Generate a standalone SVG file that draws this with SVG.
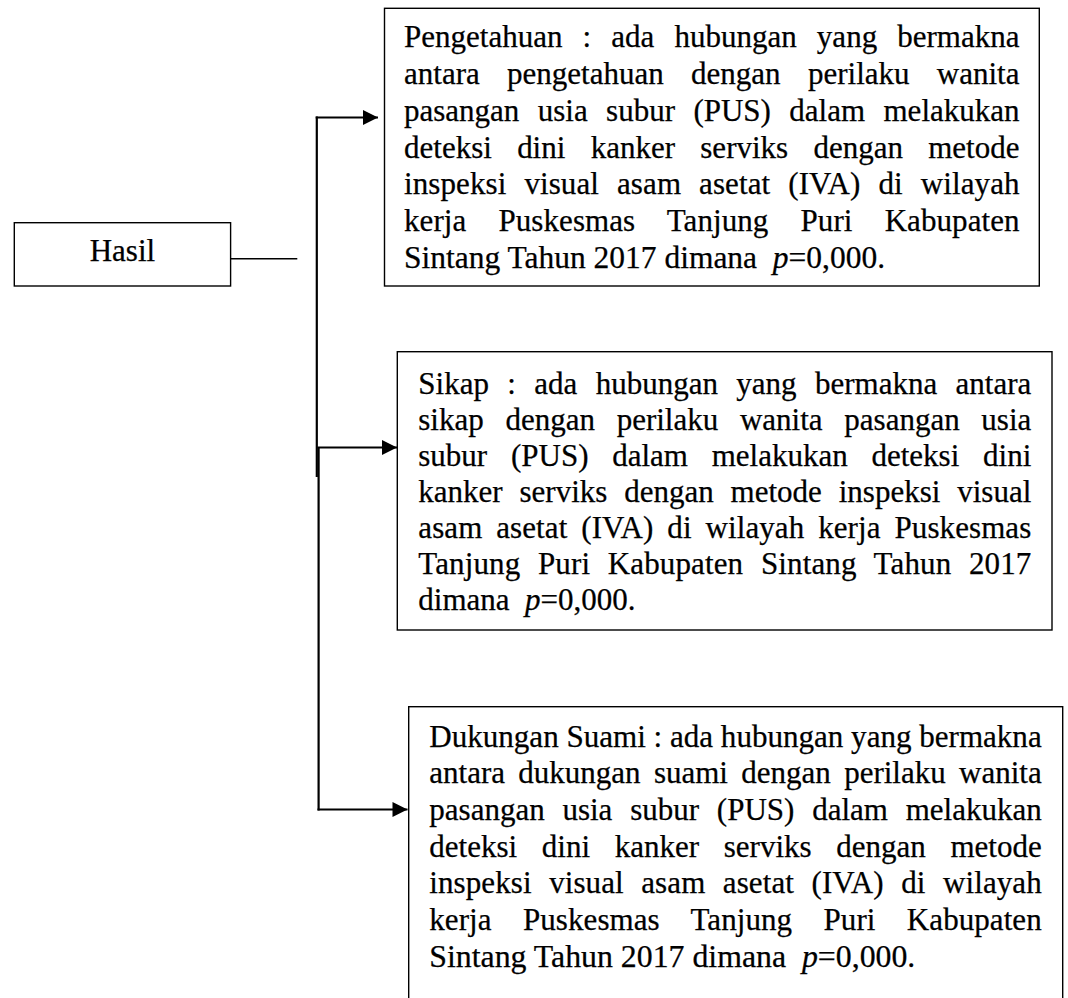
<svg xmlns="http://www.w3.org/2000/svg" width="1068" height="998" viewBox="0 0 1068 998">
<style>
.box{fill:#fff;stroke:#000;stroke-width:1.4}
.t{font-family:"Liberation Serif","Times New Roman",serif;font-size:31px;fill:#000;stroke:#000;stroke-width:0.25}
.c{fill:none;stroke:#000;stroke-width:2.2}
</style>
<defs>
<marker id="ah" viewBox="0 0 10 10" refX="10" refY="5" markerWidth="16" markerHeight="15" markerUnits="userSpaceOnUse" orient="auto">
<path d="M0,0 L10,5 L0,10 Z" fill="#000"/>
</marker>
</defs>
<rect width="1068" height="998" fill="#fff"/>
<g id="connectors">
<line class="c" x1="230.6" y1="258.7" x2="297.3" y2="258.7" style="stroke-width:1.6"/>
<line class="c" x1="316.8" y1="116.4" x2="316.8" y2="477"/>
<line class="c" x1="318.6" y1="447" x2="318.6" y2="810.6"/>
<line class="c" x1="315.7" y1="117.5" x2="378" y2="117.5" marker-end="url(#ah)"/>
<line class="c" x1="317.5" y1="447.5" x2="397" y2="447.5" marker-end="url(#ah)"/>
<line class="c" x1="317.5" y1="809.5" x2="407.5" y2="809.5" marker-end="url(#ah)"/>
</g>
<g id="hasil">
<rect class="box" x="14.3" y="222.7" width="216.3" height="63.3"/>
<text class="t" x="122.4" y="261" text-anchor="middle">Hasil</text>
</g>
<g id="pengetahuan">
<rect class="box" x="384.5" y="8.3" width="654.8" height="277.7"/>
<text class="t" x="404" y="46.8" word-spacing="12.39" textLength="615.5" lengthAdjust="spacing">Pengetahuan : ada hubungan yang bermakna</text>
<text class="t" x="404" y="83.7" word-spacing="19.58" textLength="615.5" lengthAdjust="spacing">antara pengetahuan dengan perilaku wanita</text>
<text class="t" x="404" y="120.6" word-spacing="10.66" textLength="615.5" lengthAdjust="spacing">pasangan usia subur (PUS) dalam melakukan</text>
<text class="t" x="404" y="157.5" word-spacing="17.54" textLength="615.5" lengthAdjust="spacing">deteksi dini kanker serviks dengan metode</text>
<text class="t" x="404" y="194.4" word-spacing="10.17" textLength="615.5" lengthAdjust="spacing">inspeksi visual asam asetat (IVA) di wilayah</text>
<text class="t" x="404" y="231.3" word-spacing="24.3" textLength="615.5" lengthAdjust="spacing">kerja Puskesmas Tanjung Puri Kabupaten</text>
<text class="t" x="404" y="268.2" textLength="481" lengthAdjust="spacingAndGlyphs">Sintang Tahun 2017 dimana&#160; <tspan font-style="italic">p</tspan>=0,000.</text>
</g>
<g id="sikap">
<rect class="box" x="397.3" y="351.7" width="654.7" height="278.3"/>
<text class="t" x="418.3" y="394.3" word-spacing="10.62" textLength="613" lengthAdjust="spacing">Sikap : ada hubungan yang bermakna antara</text>
<text class="t" x="418.3" y="430.2" word-spacing="13.95" textLength="613" lengthAdjust="spacing">sikap dengan perilaku wanita pasangan usia</text>
<text class="t" x="418.3" y="466.1" word-spacing="16.0" textLength="613" lengthAdjust="spacing">subur (PUS) dalam melakukan deteksi dini</text>
<text class="t" x="418.3" y="502.0" word-spacing="9.12" textLength="613" lengthAdjust="spacing">kanker serviks dengan metode inspeksi visual</text>
<text class="t" x="418.3" y="537.9" word-spacing="6.03" textLength="613" lengthAdjust="spacing">asam asetat (IVA) di wilayah kerja Puskesmas</text>
<text class="t" x="418.3" y="573.8" word-spacing="9.8" textLength="613" lengthAdjust="spacing">Tanjung Puri Kabupaten Sintang Tahun 2017</text>
<text class="t" x="418.3" y="609.7">dimana&#160; <tspan font-style="italic">p</tspan>=0,000.</text>
</g>
<g id="dukungan">
<rect class="box" x="408.7" y="706.7" width="654" height="300"/>
<text class="t" x="429.3" y="746.6" textLength="612.4" lengthAdjust="spacingAndGlyphs">Dukungan Suami : ada hubungan yang bermakna</text>
<text class="t" x="429.3" y="783.3" word-spacing="5.57" textLength="612.4" lengthAdjust="spacing">antara dukungan suami dengan perilaku wanita</text>
<text class="t" x="429.3" y="820.0" word-spacing="10.04" textLength="612.4" lengthAdjust="spacing">pasangan usia subur (PUS) dalam melakukan</text>
<text class="t" x="429.3" y="856.7" word-spacing="16.92" textLength="612.4" lengthAdjust="spacing">deteksi dini kanker serviks dengan metode</text>
<text class="t" x="429.3" y="893.4" word-spacing="9.66" textLength="612.4" lengthAdjust="spacing">inspeksi visual asam asetat (IVA) di wilayah</text>
<text class="t" x="429.3" y="930.1" word-spacing="23.52" textLength="612.4" lengthAdjust="spacing">kerja Puskesmas Tanjung Puri Kabupaten</text>
<text class="t" x="429.3" y="966.8" textLength="486" lengthAdjust="spacingAndGlyphs">Sintang Tahun 2017 dimana&#160; <tspan font-style="italic">p</tspan>=0,000.</text>
</g>
</svg>
